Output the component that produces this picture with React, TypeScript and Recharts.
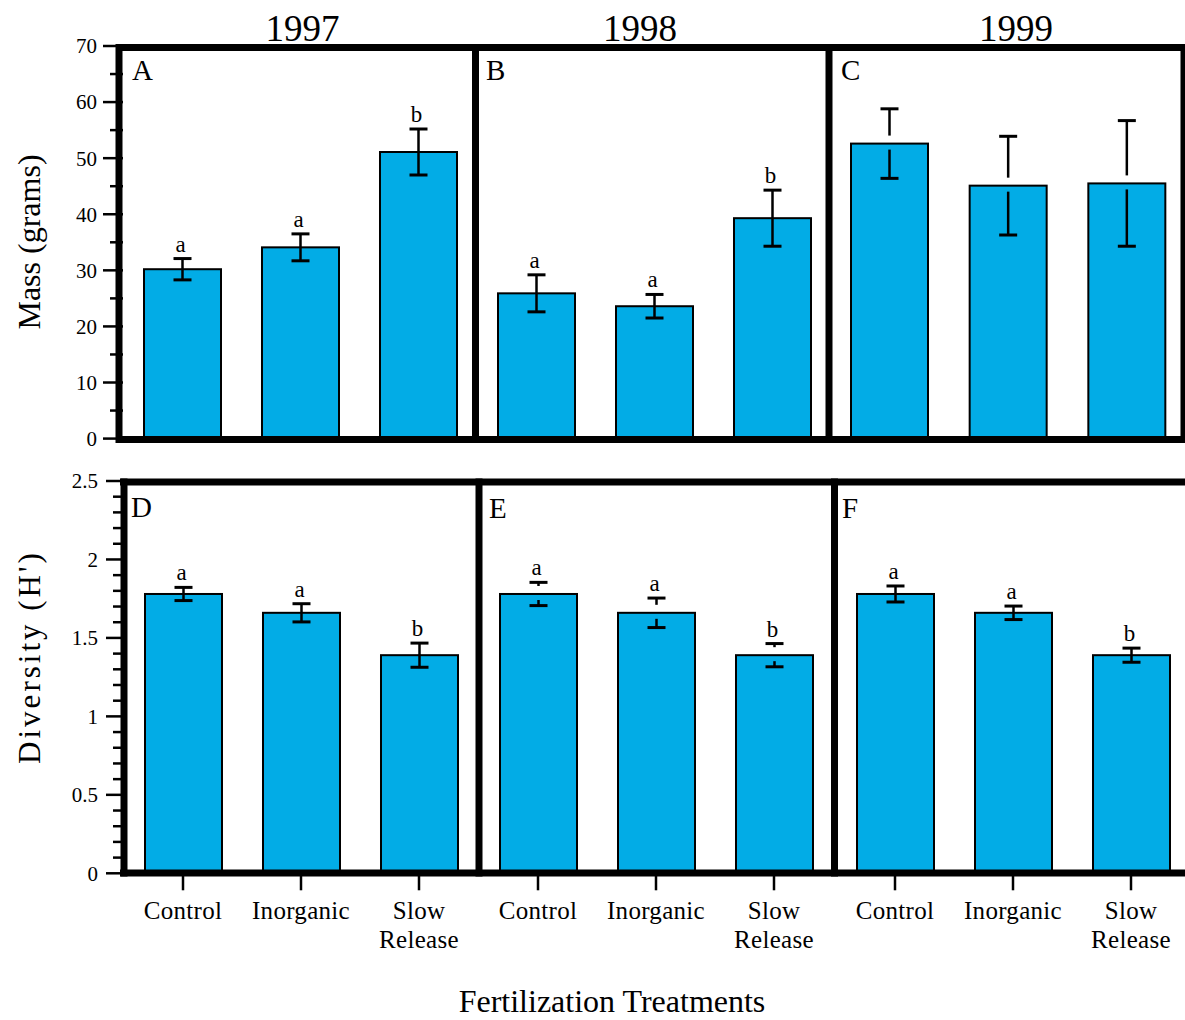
import React from 'react'
import { BarChart, Bar, XAxis, YAxis } from 'recharts'

const TREATMENTS = ['Control', 'Inorganic', 'Slow Release']

// mass (grams), top row
const MASS_1997 = [30.2, 34.1, 51.1]
const MASS_1997_SE = [1.9, 2.4, 4.1]
const MASS_1997_LETTERS = ['a', 'a', 'b']

const MASS_1998 = [25.9, 23.6, 39.3]
const MASS_1998_SE = [3.3, 2.1, 5.0]
const MASS_1998_LETTERS = ['a', 'a', 'b']

const MASS_1999 = [52.6, 45.1, 45.5]
const MASS_1999_SE = [6.2, 8.8, 11.2]
const MASS_1999_LETTERS = ['', '', '']

// diversity (H'), bottom row
const DIV_1997 = [1.78, 1.66, 1.39]
const DIV_1997_SE = [0.042, 0.058, 0.077]
const DIV_1997_LETTERS = ['a', 'a', 'b']

const DIV_1998 = [1.78, 1.66, 1.39]
const DIV_1998_SE = [0.074, 0.094, 0.074]
const DIV_1998_LETTERS = ['a', 'a', 'b']

const DIV_1999 = [1.78, 1.66, 1.39]
const DIV_1999_SE = [0.051, 0.043, 0.045]
const DIV_1999_LETTERS = ['a', 'a', 'b']

const MASS_TICKS = [0, 10, 20, 30, 40, 50, 60, 70]
const MASS_MINOR_TICKS = [5, 15, 25, 35, 45, 55, 65]
const DIV_TICKS = [0, 0.5, 1, 1.5, 2, 2.5]
const DIV_MINOR_TICKS = [
  0.1, 0.2, 0.3, 0.4, 0.6, 0.7, 0.8, 0.9, 1.1, 1.2, 1.3, 1.4,
  1.6, 1.7, 1.8, 1.9, 2.1, 2.2, 2.3, 2.4
]

const YEARS = ['1997', '1998', '1999']
const PANEL_LETTERS = ['A', 'B', 'C', 'D', 'E', 'F']

const BAR_FILL = '#02ACE6'
const FONT = '"Liberation Serif", "Times New Roman", serif'

const makeRows = (means: number[], se: number[], letters: string[]) =>
  TREATMENTS.map((name, i) => ({ name, mean: means[i], se: se[i], letter: letters[i] }))

const BarWithError = (props: any) => {
  const { x, y, width, height, payload, gapped } = props
  if (!payload || !height) return null
  const ppu = height / payload.mean
  const cx = x + width / 2
  const top = y - payload.se * ppu
  const bot = y + payload.se * ppu
  // some panels have the whisker broken where it crosses the bar edge
  const stems = gapped ? [[top, y - 8], [y + 6, bot]] : [[top, bot]]
  return (
    <g>
      <rect x={x} y={y} width={width} height={height} fill={BAR_FILL} stroke="#000" strokeWidth={2} />
      {stems.map(([a, b], i) =>
        b > a ? <line key={i} x1={cx} x2={cx} y1={a} y2={b} stroke="#000" strokeWidth={2.5} /> : null
      )}
      <line x1={cx - 9} x2={cx + 9} y1={top} y2={top} stroke="#000" strokeWidth={3} />
      <line x1={cx - 9} x2={cx + 9} y1={bot} y2={bot} stroke="#000" strokeWidth={3} />
      {payload.letter ? (
        <text x={cx - 2} y={top - 7} textAnchor="middle" fontSize={23} fill="#000" fontFamily={FONT}>
          {payload.letter}
        </text>
      ) : null}
    </g>
  )
}

const YTick = (props: any) => {
  const { x, y, payload, major, majorLen, minorLen } = props
  const isMajor = major.includes(payload.value)
  return (
    <g>
      <line x1={x} x2={x - (isMajor ? majorLen : minorLen)} y1={y} y2={y} stroke="#000" strokeWidth={2.5} />
      {isMajor && (
        <text x={x - 26} y={y} dy="0.35em" textAnchor="end" fontSize={21} fill="#000" fontFamily={FONT}>
          {payload.value}
        </text>
      )}
    </g>
  )
}

const XTick = (props: any) => {
  const { x, y, payload } = props
  const lines = String(payload.value).split(' ')
  return (
    <g>
      <line x1={x} x2={x} y1={y} y2={y + 17} stroke="#000" strokeWidth={2.5} />
      <text x={x} y={y + 46} textAnchor="middle" fontSize={25} letterSpacing={0.3} fill="#000" fontFamily={FONT}>
        {lines.map((l, i) => (
          <tspan key={i} x={x} dy={i === 0 ? 0 : 29}>
            {l}
          </tspan>
        ))}
      </text>
    </g>
  )
}

interface PanelProps {
  left: number
  right: number
  top: number
  bottom: number
  rows: any[]
  domain: [number, number]
  major: number[]
  minor: number[]
  majorLen: number
  minorLen: number
  showY?: boolean
  showX?: boolean
  gapped?: boolean
}

const Panel: React.FC<PanelProps> = ({
  left, right, top, bottom, rows, domain, major, minor, majorLen, minorLen, showY, showX, gapped
}) => {
  const axisW = showY ? 110 : 0
  const padTop = 20
  const xAxisH = 90
  const padBottom = 20
  const width = right - left + axisW
  const height = bottom - top + padTop + padBottom + (showX ? xAxisH : 0)
  const allTicks = [...major, ...minor].sort((a, b) => a - b)
  return (
    <div style={{ position: 'absolute', left: left - axisW, top: top - padTop }}>
      <BarChart
        width={width}
        height={height}
        data={rows}
        margin={{ top: padTop, right: 0, bottom: padBottom, left: 0 }}
        barCategoryGap={0}
      >
        <XAxis
          dataKey="name"
          hide={!showX}
          height={xAxisH}
          axisLine={false}
          tickLine={false}
          tickSize={0}
          tickMargin={0}
          interval={0}
          tick={(p: any) => <XTick {...p} />}
        />
        <YAxis
          hide={!showY}
          width={axisW}
          domain={domain}
          ticks={allTicks}
          interval={0}
          axisLine={false}
          tickLine={false}
          tickSize={0}
          tickMargin={0}
          tick={(p: any) => <YTick {...p} major={major} majorLen={majorLen} minorLen={minorLen} />}
        />
        <Bar
          dataKey="mean"
          barSize={77}
          isAnimationActive={false}
          shape={(p: any) => <BarWithError {...p} gapped={gapped} />}
        />
      </BarChart>
    </div>
  )
}

const TOP_ROW = { top: 45.7, bottom: 438.3 }
const BOTTOM_ROW = { top: 481, bottom: 873.3 }

export default function App() {
  return (
    <div
      style={{
        position: 'absolute',
        left: 0,
        top: 0,
        width: 1185,
        height: 1020,
        overflow: 'hidden',
        background: '#fff',
        fontFamily: FONT
      }}
    >
      <Panel left={123} right={477} {...TOP_ROW} rows={makeRows(MASS_1997, MASS_1997_SE, MASS_1997_LETTERS)}
        domain={[0, 70]} major={MASS_TICKS} minor={MASS_MINOR_TICKS} majorLen={20} minorLen={13} showY />
      <Panel left={476.5} right={830.5} {...TOP_ROW} rows={makeRows(MASS_1998, MASS_1998_SE, MASS_1998_LETTERS)}
        domain={[0, 70]} major={MASS_TICKS} minor={MASS_MINOR_TICKS} majorLen={20} minorLen={13} />
      <Panel left={829.5} right={1185.5} {...TOP_ROW} rows={makeRows(MASS_1999, MASS_1999_SE, MASS_1999_LETTERS)}
        domain={[0, 70]} major={MASS_TICKS} minor={MASS_MINOR_TICKS} majorLen={20} minorLen={13} gapped />

      <Panel left={124} right={478} {...BOTTOM_ROW} rows={makeRows(DIV_1997, DIV_1997_SE, DIV_1997_LETTERS)}
        domain={[0, 2.5]} major={DIV_TICKS} minor={DIV_MINOR_TICKS} majorLen={18} minorLen={11} showY showX />
      <Panel left={479} right={833} {...BOTTOM_ROW} rows={makeRows(DIV_1998, DIV_1998_SE, DIV_1998_LETTERS)}
        domain={[0, 2.5]} major={DIV_TICKS} minor={DIV_MINOR_TICKS} majorLen={18} minorLen={11} showX gapped />
      <Panel left={836.3} right={1190.3} {...BOTTOM_ROW} rows={makeRows(DIV_1999, DIV_1999_SE, DIV_1999_LETTERS)}
        domain={[0, 2.5]} major={DIV_TICKS} minor={DIV_MINOR_TICKS} majorLen={18} minorLen={11} showX />

      {/* frames, panel letters and titles */}
      <svg width={1185} height={1020} style={{ position: 'absolute', left: 0, top: 0, pointerEvents: 'none' }}>
        <g stroke="#000" strokeWidth={7}>
          <line x1={116} x2={1185} y1={47.5} y2={47.5} />
          <line x1={116} x2={1185} y1={439.5} y2={439.5} />
          <line x1={119} x2={119} y1={44} y2={443} />
          <line x1={475.5} x2={475.5} y1={44} y2={443} />
          <line x1={829} x2={829} y1={44} y2={443} />
          <line x1={1184} x2={1184} y1={44} y2={443} />

          <line x1={120} x2={1185} y1={482} y2={482} />
          <line x1={120} x2={1185} y1={873} y2={873} />
          <line x1={124} x2={124} y1={478.5} y2={876.5} />
          <line x1={479} x2={479} y1={478.5} y2={876.5} />
          <line x1={834.5} x2={834.5} y1={478.5} y2={876.5} />
        </g>
        <g fontSize={29} fill="#000" fontFamily={FONT}>
          <text x={132} y={80}>{PANEL_LETTERS[0]}</text>
          <text x={486} y={80}>{PANEL_LETTERS[1]}</text>
          <text x={841} y={80}>{PANEL_LETTERS[2]}</text>
          <text x={131} y={517}>{PANEL_LETTERS[3]}</text>
          <text x={489} y={518}>{PANEL_LETTERS[4]}</text>
          <text x={842} y={518}>{PANEL_LETTERS[5]}</text>
        </g>
        <g fontSize={37} fill="#000" fontFamily={FONT} textAnchor="middle">
          <text x={302.5} y={41}>{YEARS[0]}</text>
          <text x={640} y={41}>{YEARS[1]}</text>
          <text x={1016} y={41}>{YEARS[2]}</text>
        </g>
        <g fill="#000" fontFamily={FONT} textAnchor="middle">
          <text x={40} y={242} fontSize={32} transform="rotate(-90 40 242)">Mass (grams)</text>
          <text x={40} y={657} fontSize={31} letterSpacing={3} transform="rotate(-90 40 657)">Diversity (H')</text>
          <text x={612} y={1012} fontSize={32}>Fertilization Treatments</text>
        </g>
      </svg>
    </div>
  )
}
